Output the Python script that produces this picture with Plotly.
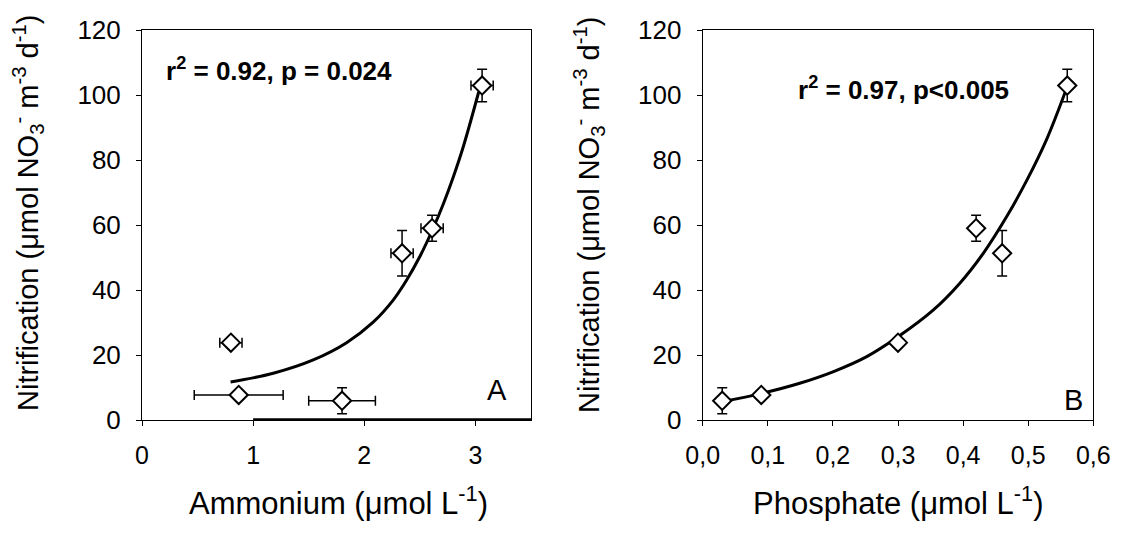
import plotly.graph_objects as go

# ---- data ----
ammonium = [0.80, 0.87, 1.80, 2.34, 2.61, 3.06]
ammonium_err = [0.10, 0.40, 0.30, 0.10, 0.10, 0.10]
phosphate = [0.30, 0.09, 0.03, 0.46, 0.42, 0.56]
nitrification = [23.8, 7.7, 5.9, 51.3, 59.0, 102.9]
nitrification_err = [0.8, 0.8, 4.0, 7.0, 4.0, 5.0]

fitA_x = [0.797, 1.181, 1.541, 1.841, 2.08, 2.26, 2.38, 2.50, 2.62, 2.71, 2.80, 2.89, 3.03]
fitA_y = [11.7, 14.4, 18.5, 23.8, 30.1, 36.9, 43.0, 50.3, 59.0, 66.4, 74.7, 84.0, 101.0]
fitB_x = [0.029, 0.091, 0.149, 0.201, 0.252, 0.300, 0.354, 0.395, 0.431, 0.467, 0.498, 0.528, 0.557]
fitB_y = [5.6, 8.2, 11.3, 14.9, 19.5, 25.6, 33.8, 42.1, 51.3, 62.6, 73.8, 86.2, 101.0]
baseA_x = [1.0, 3.5]
baseA_y = [0, 0]

yticks = [0, 20, 40, 60, 80, 100, 120]
xticksA = [0, 1, 2, 3]
xticksB = [0.0, 0.1, 0.2, 0.3, 0.4, 0.5, 0.6]

FONT = "Arial, Liberation Sans, sans-serif"
W, H = 1122, 541

fig = go.Figure()

marker = dict(symbol="diamond", size=14, color="white", line=dict(color="black", width=2))
err = dict(color="black", thickness=1.5, width=5)

# Panel A
fig.add_trace(go.Scatter(x=fitA_x, y=fitA_y, mode="lines", line=dict(color="black", width=3, shape="spline"),
                         xaxis="x", yaxis="y", showlegend=False, hoverinfo="skip"))
fig.add_trace(go.Scatter(x=baseA_x, y=baseA_y, mode="lines", line=dict(color="black", width=3.5),
                         xaxis="x", yaxis="y", showlegend=False, cliponaxis=False, hoverinfo="skip"))
fig.add_trace(go.Scatter(x=ammonium, y=nitrification, mode="markers", marker=marker,
                         error_x=dict(type="data", array=ammonium_err, visible=True, **err),
                         error_y=dict(type="data", array=nitrification_err, visible=True, **err),
                         xaxis="x", yaxis="y", showlegend=False, cliponaxis=False))

# Panel B
fig.add_trace(go.Scatter(x=fitB_x, y=fitB_y, mode="lines", line=dict(color="black", width=3, shape="spline"),
                         xaxis="x2", yaxis="y2", showlegend=False, hoverinfo="skip"))
fig.add_trace(go.Scatter(x=phosphate, y=nitrification, mode="markers", marker=marker,
                         error_y=dict(type="data", array=nitrification_err, visible=True, **err),
                         xaxis="x2", yaxis="y2", showlegend=False, cliponaxis=False))

axis_common = dict(showline=True, linecolor="black", linewidth=1, mirror=True, ticks="outside",
                   ticklen=5, tickcolor="black", tickwidth=1, showgrid=False, zeroline=False,
                   automargin=False)
xfont = dict(family=FONT, size=25, color="black")
yfont = dict(family=FONT, size=26, color="black")

ydom = [1 - 420 / H, 1 - 30 / H]
fig.update_layout(
    width=W, height=H, autosize=False, margin=dict(l=0, r=0, t=0, b=0, pad=0, autoexpand=False),
    paper_bgcolor="white", plot_bgcolor="white",
    separators=",.",
    font=dict(family=FONT, color="black"),
    xaxis=dict(domain=[142 / W, 531 / W], range=[0, 3.5], tickvals=xticksA, ticklabelstandoff=8,
               tickfont=xfont, anchor="y", **axis_common),
    yaxis=dict(domain=ydom, range=[0, 120], tickvals=yticks, ticklabelstandoff=10,
               tickfont=yfont, anchor="x", **axis_common),
    xaxis2=dict(domain=[702.7 / W, 1093.3 / W], range=[0, 0.6], tickvals=xticksB, tickformat=".1f",
                ticklabelstandoff=8, tickfont=xfont, anchor="y2", **axis_common),
    yaxis2=dict(domain=ydom, range=[0, 120], tickvals=yticks, ticklabelstandoff=10,
                tickfont=yfont, anchor="x2", **axis_common),
)

def px(x, y):
    return x / W, 1 - y / H

ann = []
def add_text(text, x, y, size, xanchor="center", bold=False, angle=0):
    ax, ay = px(x, y)
    ann.append(dict(text=("<b>%s</b>" % text) if bold else text, x=ax, y=ay, xref="paper", yref="paper",
                    xanchor=xanchor, yanchor="middle", showarrow=False, textangle=angle,
                    font=dict(family=FONT, size=size, color="black")))

add_text("r<sup>2</sup> = 0.92, p = 0.024", 164, 70, 26, xanchor="left", bold=True)
add_text("r<sup>2</sup> = 0.97, p&lt;0.005", 796, 89, 26, xanchor="left", bold=True)
add_text("A", 497, 390, 29)
add_text("B", 1073, 400, 29)
add_text("Ammonium (μmol L<sup>-1</sup>)", 338, 501, 31)
add_text("Phosphate (μmol L<sup>-1</sup>)", 898, 501, 31)
ytitle = "Nitrification (μmol NO<sub>3</sub><sup>-</sup> m<sup>-3</sup> d<sup>-1</sup>)"
add_text(ytitle, 28, 213, 29, angle=-90)
add_text(ytitle, 589, 215, 29, angle=-90)
fig.update_layout(annotations=ann)

fig.write_html("out.html", config={"displayModeBar": False},
               post_script="document.body.style.margin='0px';document.body.style.overflow='hidden';")
